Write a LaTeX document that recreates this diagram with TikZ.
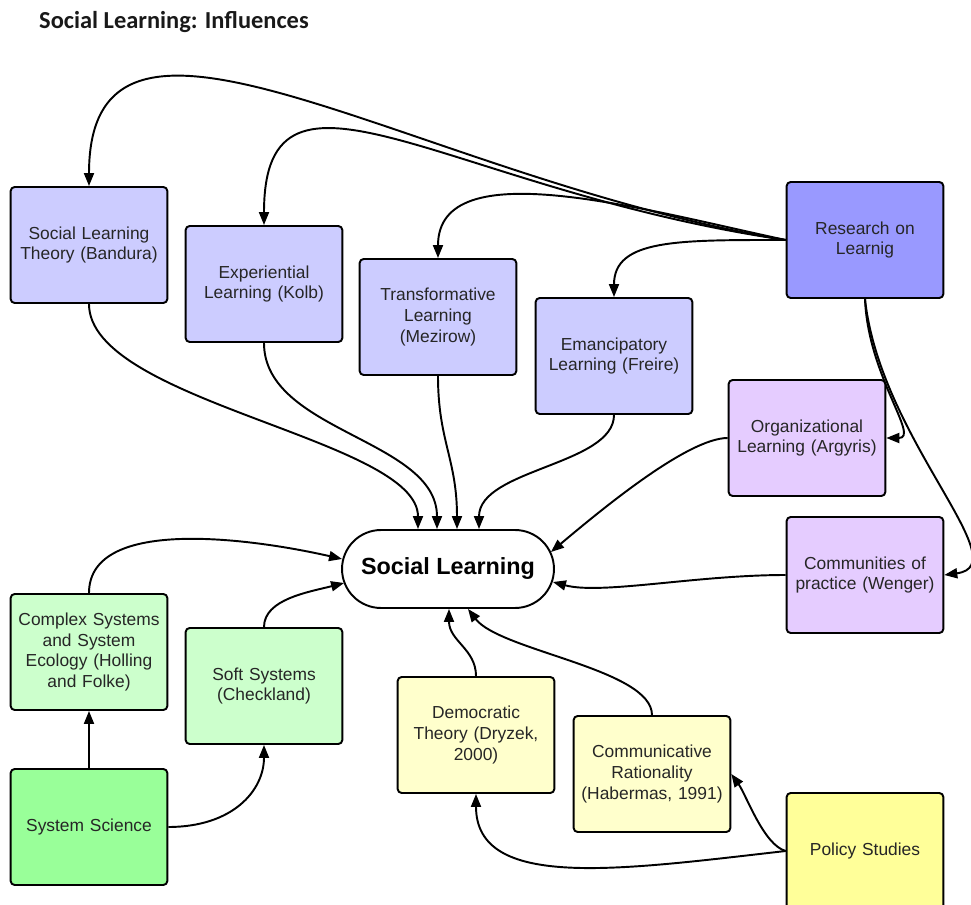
\documentclass[tikz,border=0pt]{standalone}
\usepackage{fontspec}
\setmainfont{Liberation Sans}
\newfontfamily\titlefont{Carlito}
\usetikzlibrary{arrows.meta}
\usetikzlibrary{calc}

\definecolor{lavender}{HTML}{CCCCFF}
\definecolor{researchblue}{HTML}{9999FF}
\definecolor{lilac}{HTML}{E5CCFF}
\definecolor{mint}{HTML}{CCFFCC}
\definecolor{sysgreen}{HTML}{99FF99}
\definecolor{cream}{HTML}{FFFFCC}
\definecolor{lemon}{HTML}{FFFF99}

\begin{document}
\begin{tikzpicture}[x=0.02cm, y=-0.02cm, box/.style={rectangle, draw, line width=1.1pt, rounded corners=0.08cm, minimum width=3.1cm, minimum height=2.32cm, text width=2.9cm, align=center, text=black!85, font=\fontsize{9.9}{11.7}\selectfont}, hub/.style={rectangle, draw, line width=1.1pt, rounded corners=0.78cm, minimum width=4.24cm, minimum height=1.56cm, fill=white, font=\bfseries\fontsize{13.3}{16}\selectfont}, arrow/.style={line width=1.1pt, -{Triangle[length=2.6mm,width=2mm]}}]
\useasboundingbox (0,0) rectangle (971,905);
\clip (0,0) rectangle (971,905);
\node [anchor=base west, text=black!90, font=\titlefont\bfseries\fontsize{13.9}{16}\selectfont] (title) at (33,29) {Social Learning: Influences};
% learning theories
\node [box, fill=lavender] (bandura) at (89,245) {Social Learning\\Theory (Bandura)};
\node [box, fill=lavender] (kolb) at (264,284) {Experiential\\Learning (Kolb)};
\node [box, fill=lavender] (mezirow) at (438,317) {Transformative\\Learning\\(Mezirow)};
\node [box, fill=lavender] (freire) at (614,356) {Emancipatory\\Learning (Freire)};
\node [box, fill=researchblue] (research) at (865,240) {Research on\\Learnig};
\node [box, fill=lilac] (argyris) at (807,438) {Organizational\\Learning (Argyris)};
\node [box, fill=lilac] (wenger) at (865,575) {Communities of\\practice (Wenger)};
\node [hub] (sl) at (448,569) {Social Learning};
% systems
\node [box, fill=mint] (complex) at (89,652) {Complex Systems\\and System\\Ecology (Holling\\and Folke)};
\node [box, fill=mint] (soft) at (264,686) {Soft Systems\\(Checkland)};
\node [box, fill=sysgreen] (syssci) at (89,827) {System Science};
% policy
\node [box, fill=cream] (dryzek) at (476,735) {Democratic\\Theory (Dryzek,\\2000)};
\node [box, fill=cream] (habermas) at (652,774) {Communicative\\Rationality\\(Habermas, 1991)};
\node [box, fill=lemon] (policy) at (865,851) {Policy Studies};
% research on learning
\draw [arrow] (research.west) .. controls +(-368,-60) and +(0,-241) .. (bandura.north);
\draw [arrow] (research.west) .. controls +(-337,-49) and +(0,-194) .. (kolb.north);
\draw [arrow] (research.west) .. controls +(-145,-31) and +(0,-107) .. (mezirow.north);
\draw [arrow] (research.west) .. controls +(-108,0) and +(0,-58) .. (freire.north);
\draw [arrow] (research.south) .. controls +(3,77) and +(34,0) .. (argyris.east);
\draw [arrow] (research.south) .. controls +(15,140) and +(75,-10) .. (wenger.east);
% into social learning
\draw [arrow] (bandura.south) .. controls +(0,98) and +(0,-90) .. ($(sl.north)+(-30,0)$);
\draw [arrow] (kolb.south) .. controls +(0,89) and +(0,-90) .. ($(sl.north)+(-11,0)$);
\draw [arrow] (mezirow.south) .. controls +(0,65) and +(0,-70) .. ($(sl.north)+(9,0)$);
\draw [arrow] (freire.south) .. controls +(0,50) and +(0,-60) .. ($(sl.north)+(31,0)$);
\draw [arrow] (argyris.west) .. controls +(-40,0) and +(50,-42) .. ($(sl.east)+(-4,-17)$);
\draw [arrow] (wenger.west) .. controls +(-90,0) and +(48,13) .. ($(sl.east)+(-2,13)$);
\draw [arrow] (complex.north) .. controls +(0,-79) and +(-83,-19) .. ($(sl.west)+(1,-10)$);
\draw [arrow] (soft.north) .. controls +(0,-28) and +(-35,9) .. ($(sl.west)+(3,14)$);
\draw [arrow] (dryzek.north) .. controls +(0,-27) and +(0,32) .. ($(sl.south)+(1,0)$);
\draw [arrow] (habermas.north) .. controls +(0,-46) and +(32,42) .. ($(sl.south)+(20,0)$);
% systems and policy
\draw [arrow] (syssci.north) -- (complex.south);
\draw [arrow] (syssci.east) .. controls +(64,0) and +(0,46) .. (soft.south);
\draw [arrow] (policy.west) .. controls +(-22,-6) and +(15,21) .. (habermas.east);
\draw [arrow] (policy.west) .. controls +(-167,19) and +(0,97) .. (dryzek.south);
\end{tikzpicture}
\end{document}
